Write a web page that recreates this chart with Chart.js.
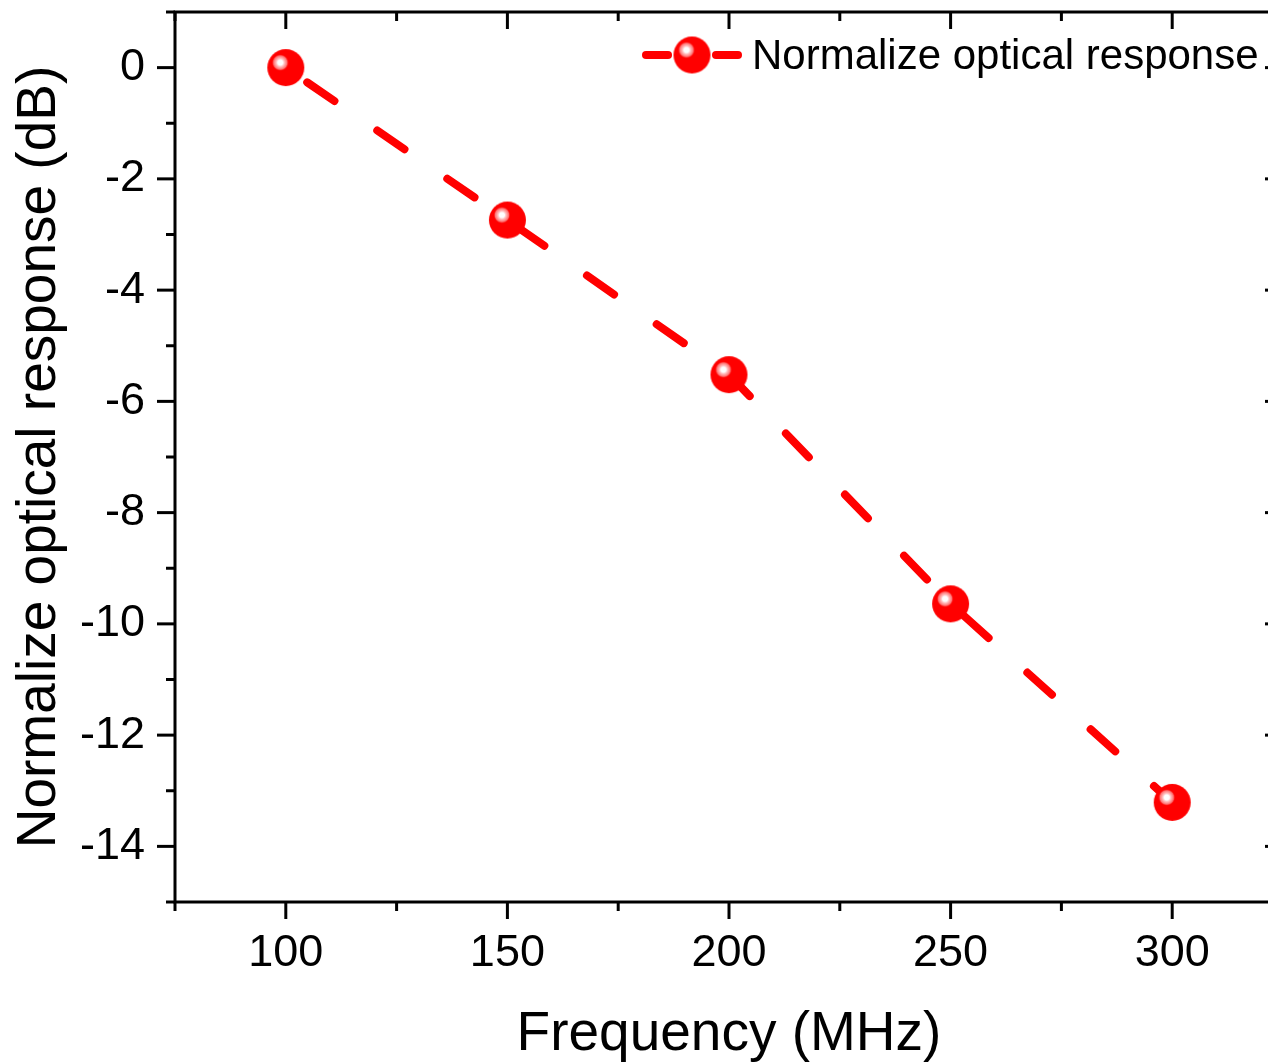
<!DOCTYPE html>
<html>
<head>
<meta charset="utf-8">
<script src="https://cdn.jsdelivr.net/npm/chart.js@4"></script>
<style>
  html, body { margin: 0; padding: 0; background: #fff; overflow: hidden; }
  #wrap { position: relative; width: 1300px; height: 1064px; }
</style>
</head>
<body>
<div id="wrap"><canvas id="chart"></canvas></div>
<script>
// data
const frequency = [100, 150, 200, 250, 300];
const response = [0, -2.74, -5.52, -9.64, -13.21];
const xTicks = [100, 150, 200, 250, 300];
const yTicks = [0, -2, -4, -6, -8, -10, -12, -14];
const seriesLabel = 'Normalize optical response';

const RED = '#ff0000';
const FONT = 'Arial, "Liberation Sans", sans-serif';

// shiny ball marker
function makeBall(r) {
  const size = Math.ceil(r * 2 + 2);
  const c = document.createElement('canvas');
  c.width = size; c.height = size;
  const g = c.getContext('2d');
  const cx = size / 2, cy = size / 2;
  g.fillStyle = RED;
  g.beginPath(); g.arc(cx, cy, r, 0, Math.PI * 2); g.fill();
  const hx = cx - 5.5, hy = cy - 5;
  const grad = g.createRadialGradient(hx, hy, 0, hx, hy, 8.5);
  grad.addColorStop(0, 'rgba(255,255,255,1)');
  grad.addColorStop(0.3, 'rgba(255,255,255,1)');
  grad.addColorStop(0.45, 'rgba(255,200,200,1)');
  grad.addColorStop(0.8, 'rgba(255,120,120,0.95)');
  grad.addColorStop(1, 'rgba(255,0,0,0)');
  g.fillStyle = grad;
  g.beginPath(); g.arc(hx, hy, 8.5, 0, Math.PI * 2); g.fill();
  return c;
}
const ball = makeBall(18.5);

// frame, minor/major ticks on all four sides, and the legend
const framePlugin = {
  id: 'frame',
  afterDatasetsDraw(chart) {
    const { ctx, chartArea: a, scales: { x, y } } = chart;
    ctx.save();
    ctx.strokeStyle = '#000';
    ctx.lineWidth = 3;
    ctx.lineCap = 'butt';
    ctx.strokeRect(a.left, a.top, a.right - a.left, a.bottom - a.top);

    const line = (x1, y1, x2, y2) => { ctx.beginPath(); ctx.moveTo(x1, y1); ctx.lineTo(x2, y2); ctx.stroke(); };
    for (let v = 75; v <= 325; v += 25) {
      const px = x.getPixelForValue(v);
      const len = v % 50 === 0 ? 17 : 9;
      line(px, a.bottom, px, a.bottom + len);   // outward
      line(px, a.top, px, a.top + len);         // inward
    }
    for (let v = -15; v <= 1; v += 1) {
      const py = y.getPixelForValue(v);
      const len = v % 2 === 0 ? 18 : 9;
      line(a.left - len, py, a.left, py);       // outward
      line(a.right - len, py, a.right, py);     // inward
    }

    // legend
    const ly = 55;
    ctx.strokeStyle = RED;
    ctx.lineWidth = 8;
    ctx.lineCap = 'round';
    line(646, ly, 668, ly);
    line(716, ly, 738, ly);
    ctx.drawImage(ball, 692 - ball.width / 2, ly - ball.height / 2);
    ctx.fillStyle = '#000';
    ctx.font = '42px ' + FONT;
    ctx.textBaseline = 'middle';
    ctx.textAlign = 'left';
    ctx.fillText(seriesLabel, 752, ly + 2);
    ctx.restore();
  }
};

new Chart(document.getElementById('chart'), {
  type: 'line',
  data: {
    datasets: [{
      label: seriesLabel,
      data: frequency.map((f, i) => ({ x: f, y: response[i] })),
      borderColor: RED,
      borderWidth: 8,
      borderDash: [33, 52],
      borderDashOffset: 59,
      borderCapStyle: 'round',
      pointStyle: ball,
      pointRadius: 18,
      pointHoverRadius: 18,
      tension: 0,
      fill: false,
    }]
  },
  options: {
    responsive: true,
    maintainAspectRatio: false,
    animation: false,
    events: [],
    layout: { autoPadding: false, padding: { top: 12, right: 17, left: 0, bottom: 0 } },
    plugins: { legend: { display: false }, tooltip: { enabled: false } },
    scales: {
      x: {
        type: 'linear',
        min: 75, max: 325,
        afterBuildTicks: s => { s.ticks = xTicks.map(v => ({ value: v })); },
        afterFit: s => { s.height = 162; s.paddingLeft = 0; s.paddingRight = 0; },
        grid: { display: false, drawTicks: false },
        border: { display: false },
        ticks: { color: '#000', font: { family: FONT, size: 45 }, padding: 25, maxRotation: 0 },
        title: {
          display: true, text: 'Frequency (MHz)', color: '#000',
          font: { family: FONT, size: 55, lineHeight: 1 }, padding: { top: 0, bottom: 2 }
        }
      },
      y: {
        type: 'linear',
        min: -15, max: 1,
        afterBuildTicks: s => { s.ticks = yTicks.map(v => ({ value: v })); },
        afterFit: s => { s.width = 175; s.paddingTop = 0; s.paddingBottom = 0; },
        grid: { display: false, drawTicks: false },
        border: { display: false },
        ticks: { color: '#000', font: { family: FONT, size: 45 }, padding: 30 },
        title: {
          display: true, text: 'Normalize optical response (dB)', color: '#000',
          font: { family: FONT, size: 55, lineHeight: 1 }, padding: { top: 12, bottom: 0 }
        }
      }
    }
  },
  plugins: [framePlugin]
});
</script>
</body>
</html>
